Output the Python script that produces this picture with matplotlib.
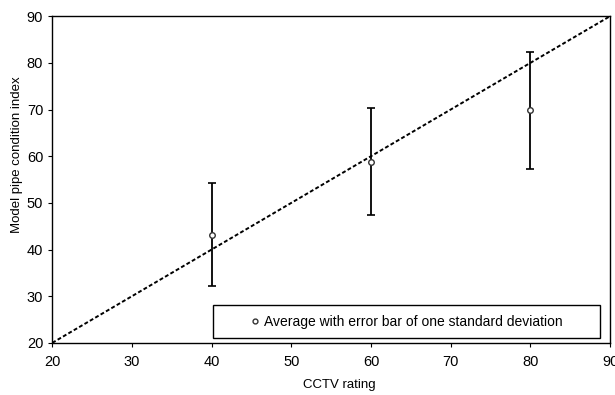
import numpy as np
import matplotlib
matplotlib.use("Agg")
import matplotlib.pyplot as plt
from matplotlib.lines import Line2D
from matplotlib.patches import Rectangle

plt.rcParams['font.family'] = ['Liberation Sans', 'DejaVu Sans']

# CCTV rating vs model index (mean and one standard deviation)
cctv = [40, 60, 80]
mean_idx = [43.2, 58.8, 69.8]
sd_idx = [11.1, 11.5, 12.6]
line_x = [20, 90]
line_y = [20, 90]
leg_text = 'Average with error bar of one standard deviation'

fig = plt.figure(figsize=(6.15, 3.95), dpi=100)
ax = fig.add_axes([0.085, 0.132, 0.907, 0.827])

ax.plot(line_x, line_y, color='k', linestyle=(0, (2, 1.2)), linewidth=1.4)
ax.errorbar(cctv, mean_idx, yerr=sd_idx, fmt='o', color='k', ecolor='k',
            markerfacecolor='white', markeredgecolor='#333333', markersize=4,
            elinewidth=1.3, capsize=3, capthick=1.2, zorder=3)

ax.set_xlim(20, 90)
ax.set_ylim(20, 90)
ax.set_xticks(np.arange(20, 91, 10))
ax.set_yticks(np.arange(20, 91, 10))
ax.tick_params(direction='out', length=3, width=0.8, labelsize=10.5)
ax.tick_params(axis='x', pad=6)
ax.set_xlabel('CCTV rating', fontsize=9.5)
ax.xaxis.set_label_coords(0.514, -0.11)
ax.set_ylabel('Model pipe condition index', fontsize=9.5)
ax.yaxis.set_label_coords(-0.053, 0.575)
for s in ax.spines.values():
    s.set_linewidth(1.0)

# legend box drawn by hand, the source box is wider than the text
box = Rectangle((0.2885, 0.015), 0.6935, 0.1, transform=ax.transAxes,
                facecolor='white', edgecolor='k', linewidth=1.0, zorder=4)
ax.add_patch(box)
handle = Line2D([], [], linestyle='none', marker='o', markersize=3.5,
                markerfacecolor='white', markeredgecolor='#333333')
leg = ax.legend([handle], [leg_text], loc='center',
                bbox_to_anchor=(0.2885 + 0.6935 / 2, 0.065), frameon=False,
                fontsize=10, handlelength=0.6, handletextpad=0.4)
leg.set_zorder(5)

fig.savefig('out.png', dpi=100)
